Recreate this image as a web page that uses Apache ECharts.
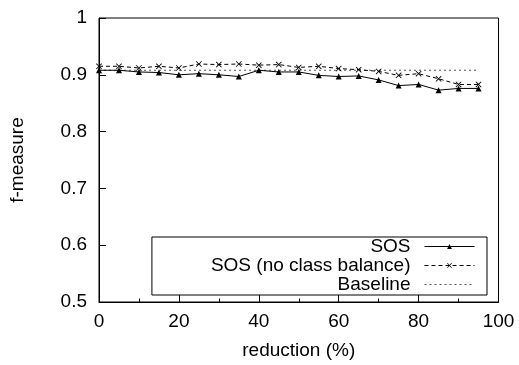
<!DOCTYPE html>
<html>
<head>
<meta charset="utf-8">
<script src="https://cdn.jsdelivr.net/npm/echarts@6/dist/echarts.min.js"></script>
<style>html,body{margin:0;padding:0;background:#fff;}#c{width:519px;height:365px;}</style>
</head>
<body>
<div id="c"></div>
<script>
var reduction = [0,5,10,15,20,25,30,35,40,45,50,55,60,65,70,75,80,85,90,95];
var sos = [0.908,0.908,0.905,0.904,0.900,0.902,0.900,0.897,0.908,0.905,0.905,0.899,0.897,0.898,0.891,0.881,0.883,0.873,0.876,0.876];
var sosNoBalance = [0.915,0.915,0.912,0.915,0.912,0.919,0.918,0.919,0.917,0.918,0.913,0.915,0.911,0.909,0.906,0.899,0.902,0.893,0.883,0.883];
var baselineX = [0,95];
var baselineY = [0.908,0.908];
var seriesNames = ['SOS','SOS (no class balance)','Baseline'];

function pairs(xs, ys){ return xs.map(function(x,i){ return [x, ys[i]]; }); }

var FONT = 'Liberation Sans';
var crossPath = 'path://M0,1L1,0L5,4L9,0L10,1L6,5L10,9L9,10L5,6L1,10L0,9L4,5Z';

var chart = echarts.init(document.getElementById('c'), null, {renderer:'canvas'});
chart.setOption({
  animation: false,
  backgroundColor: '#fff',
  textStyle: {fontFamily: FONT},
  grid: {left: 99, right: 20.5, top: 18, bottom: 61, show: true, borderColor: '#000', borderWidth: 1, containLabel: false},
  xAxis: {
    type: 'value', min: 0, max: 100, interval: 20,
    name: 'reduction (%)', nameLocation: 'middle', nameGap: 39,
    nameTextStyle: {fontFamily: FONT, fontSize: 19, color: '#000'},
    axisLine: {show: true, onZero: false, lineStyle: {color: '#000', width: 1}},
    axisTick: {show: true, inside: true, length: 7, lineStyle: {color: '#000'}},
    minorTick: {show: true, splitNumber: 2, length: 3.5, lineStyle: {color: '#000'}},
    axisLabel: {fontFamily: FONT, fontSize: 19, color: '#000', margin: 10},
    splitLine: {show: false}
  },
  yAxis: {
    type: 'value', min: 0.5, max: 1, interval: 0.1,
    name: 'f-measure', nameLocation: 'middle', nameGap: 72, nameRotate: 90,
    nameTextStyle: {fontFamily: FONT, fontSize: 19, color: '#000'},
    axisLine: {show: true, onZero: false, lineStyle: {color: '#000', width: 1}},
    axisTick: {show: true, inside: true, length: 7, lineStyle: {color: '#000'}},
    axisLabel: {fontFamily: FONT, fontSize: 19, color: '#000', margin: 12,
      formatter: function(v){ return (Math.round(v*10)/10).toString(); }},
    splitLine: {show: false}
  },
  legend: {
    orient: 'vertical', align: 'right', right: 32, top: 237,
    padding: [0, 12, 1, 59], itemGap: 0, itemWidth: 50, itemHeight: 6,
    borderColor: '#000', borderWidth: 1, backgroundColor: '#fff',
    lineStyle: {width: 1},
    textStyle: {fontFamily: FONT, fontSize: 19, color: '#000', padding: [0, 9, 0, 0]},
    data: seriesNames
  },
  series: [
    {
      name: seriesNames[0], type: 'line', data: pairs(reduction, sos),
      symbol: 'triangle', symbolSize: 6,
      lineStyle: {color: '#000', width: 1, type: 'solid'},
      itemStyle: {color: '#000'}, z: 3
    },
    {
      name: seriesNames[1], type: 'line', data: pairs(reduction, sosNoBalance),
      symbol: crossPath, symbolSize: 6,
      lineStyle: {color: '#000', width: 1, type: [4, 3]},
      itemStyle: {color: '#000'}, z: 2
    },
    {
      name: seriesNames[2], type: 'line', data: pairs(baselineX, baselineY),
      symbol: 'none',
      lineStyle: {color: '#555', width: 1, type: [2, 3]},
      itemStyle: {color: 'rgba(0,0,0,0)', borderWidth: 0}, z: 1
    }
  ]
});
</script>
</body>
</html>
